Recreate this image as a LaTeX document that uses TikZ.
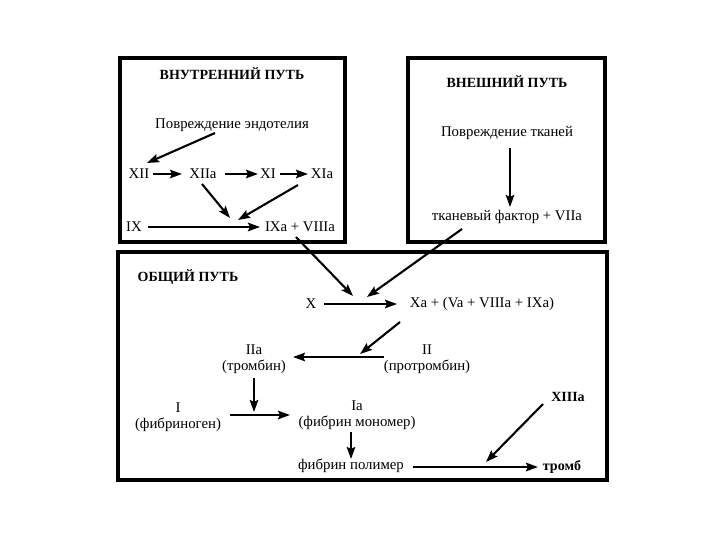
\documentclass[tikz,border=0pt]{standalone}
\usepackage{fontspec}
\setmainfont{Liberation Serif}
\usetikzlibrary{arrows.meta}
\begin{document}
\begin{tikzpicture}[x=1pt,y=-1pt,
  box/.style={draw=black,line width=3.2pt},
  lbl/.style={inner sep=1pt,font=\fontsize{14.8}{16}\selectfont},
  ttl/.style={inner sep=1pt,font=\fontsize{14}{15}\selectfont\bfseries},
  arr/.style={-{Stealth[length=12pt,width=8.5pt,inset=2pt]},line width=2.1pt},
  arrt/.style={-{Stealth[length=12pt,width=8.5pt,inset=2pt]},line width=2.8pt}]
\useasboundingbox (0,0) rectangle (720,540);
% boxes
\draw[box] (120,58) rectangle (345,242);
\draw[box] (408,58) rectangle (605,242);
\draw[box] (118,252) rectangle (607,480);
% intrinsic
\node[ttl] (t1) at (232,74) {ВНУТРЕННИЙ ПУТЬ};
\node[lbl] (endo) at (232,125) {Повреждение эндотелия};
\node[lbl] (XII) at (139,174) {XII};
\node[lbl] (XIIa) at (203,174) {XIIa};
\node[lbl] (XI) at (268,174) {XI};
\node[lbl] (XIa) at (322,174) {XIa};
\node[lbl] (IX) at (134,227) {IX};
\node[lbl] (IXa) at (300,227) {IXa + VIIIa};
% extrinsic
\node[ttl] (t2) at (507,82) {ВНЕШНИЙ ПУТЬ};
\node[lbl] (tis) at (507,133) {Повреждение тканей};
\node[lbl] (tf) at (507,217) {тканевый фактор + VIIa};
% common
\node[ttl] (t3) at (188,277) {ОБЩИЙ ПУТЬ};
\node[lbl] (X) at (311,304) {X};
\node[lbl] (Xa) at (482,304) {Xa + (Va + VIIIa + IXa)};
\node[lbl,align=center] (IIa) at (254,359) {IIa\\(тромбин)};
\node[lbl,align=center] (II) at (427,359) {II\\(протромбин)};
\node[lbl,align=center] (I) at (178,417) {I\\(фибриноген)};
\node[lbl,align=center] (Ia) at (357,415) {Ia\\(фибрин мономер)};
\node[lbl] (poly) at (351,466) {фибрин полимер};
\node[ttl] (XIIIa) at (568,397) {XIIIa};
\node[ttl] (thr) at (562,467) {тромб};
% junction coordinates
\coordinate (j1) at (230,218);
\coordinate (j1b) at (238,220);
\coordinate (jX) at (353,296);
\coordinate (jX2) at (367,297);
\coordinate (jII) at (360,354);
\coordinate (jT) at (486,462);
% arrows intrinsic
\draw[arr] (215,133) -- (147,163);
\draw[arr] (153,174) -- (182,174);
\draw[arr] (225,174) -- (258,174);
\draw[arr] (280,174) -- (308,174);
\draw[arr] (202,184) -- (j1);
\draw[arr] (298,185) -- (j1b);
\draw[arrt] (148,227) -- (260,227);
\draw[arr] (296,237) -- (jX);
% extrinsic
\draw[arr] (510,148) -- (510,207);
\draw[arr] (462,229) -- (jX2);
% common
\draw[arr] (324,304) -- (397,304);
\draw[arr] (400,322) -- (jII);
\draw[arr] (384,357) -- (293,357);
\draw[arr] (254,378) -- (254,412);
\draw[arr] (230,415) -- (290,415);
\draw[arr] (351,432) -- (351,459);
\draw[arrt] (413,467) -- (538,467);
\draw[arr] (543,404) -- (jT);
\end{tikzpicture}
\end{document}
